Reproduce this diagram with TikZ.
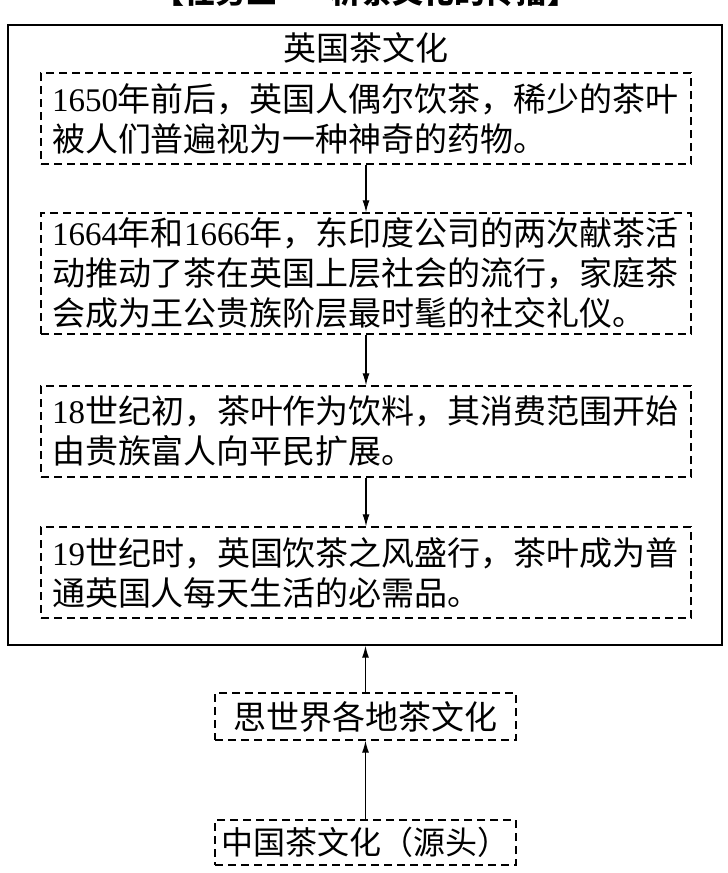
\documentclass[tikz,border=0pt]{standalone}
\usepackage{fontspec}
\setmainfont{Liberation Serif}
\newfontfamily\cjk{Noto Sans CJK SC}
\usetikzlibrary{arrows.meta}
\newcommand\nm[1]{{\rmfamily #1}}
\tikzset{
  dbox/.style={draw, dash pattern=on 8pt off 5pt, line width=1.3pt, inner ysep=0pt,
    font=\cjk\fontsize{33}{40}\selectfont},
  wbox/.style={dbox, inner xsep=11pt, text width=628pt, align=left},
  sbox/.style={dbox, inner xsep=0pt, minimum width=301pt},
  arr/.style={-{Latex[length=12pt,width=7pt]}, line width=1.2pt},
  titletext/.style={font=\cjk\fontsize{33}{40}\selectfont, inner sep=0pt},
}
\begin{document}
\begin{tikzpicture}[x=1pt,y=-1pt]
\useasboundingbox (0,0) rectangle (728,873);
\clip (0,0) rectangle (728,873);
\node[font=\cjk\bfseries\fontsize{31}{36}\selectfont, inner sep=0pt] (task) at (366,-8) {【任务三——析茶文化的传播】};
\node[draw, line width=1.4pt, minimum width=714pt, minimum height=620pt, inner sep=0pt] (outer) at (365,335) {};
\node[titletext] (title) at (366,48) {英国茶文化};
\node[wbox, minimum height=91pt] (b1) at (366,118.5)
  {\nm{1650}年前后，英国人偶尔饮茶，稀少的茶叶\\被人们普遍视为一种神奇的药物。};
\node[wbox, minimum height=121pt] (b2) at (366,273.5)
  {\nm{1664}年和\nm{1666}年，东印度公司的两次献茶活\\动推动了茶在英国上层社会的流行，家庭茶\\会成为王公贵族阶层最时髦的社交礼仪。};
\node[wbox, minimum height=91pt] (b3) at (366,431.5)
  {\nm{18}世纪初，茶叶作为饮料，其消费范围开始\\由贵族富人向平民扩展。};
\node[wbox, minimum height=91pt] (b4) at (366,572.5)
  {\nm{19}世纪时，英国饮茶之风盛行，茶叶成为普\\通英国人每天生活的必需品。};
\node[sbox, minimum height=47pt] (b5) at (365.5,716.5) {思世界各地茶文化};
\node[sbox, minimum height=45pt, font=\cjk\fontsize{32}{40}\selectfont] (b6) at (365.5,842.5) {中国茶文化（源头）};
\draw[arr] (b1) -- (b2);
\draw[arr] (b2) -- (b3);
\draw[arr] (b3) -- (b4);
\draw[arr] (b5.north) -- (b5.north |- outer.south);
\draw[arr] (b6) -- (b5);
\end{tikzpicture}
\end{document}
